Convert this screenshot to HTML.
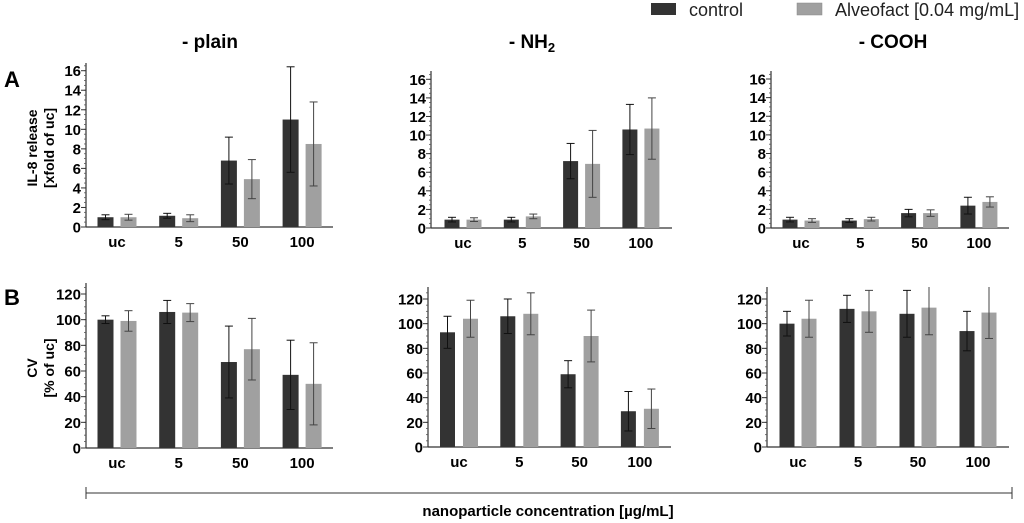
<!DOCTYPE html>
<html><head><meta charset="utf-8"><style>
html,body{margin:0;padding:0;background:#fff;}
svg{display:block;font-family:"Liberation Sans",Arial,sans-serif;}
</style></head><body>
<svg id="fig" width="1024" height="523" viewBox="0 0 1024 523">
<g>
<rect x="651" y="3" width="25" height="12" fill="#333"/>
<text x="689" y="16" font-size="18" fill="#222">control</text>
<rect x="797" y="3" width="25" height="12" fill="#a0a0a0" stroke="#888" stroke-width="0.5"/>
<text x="835" y="16" font-size="18" fill="#222">Alveofact [0.04 mg/mL]</text>
</g>
<text x="210" y="48" font-size="19" font-weight="bold" text-anchor="middle">- plain</text>
<text x="532" y="48" font-size="19" font-weight="bold" text-anchor="middle">- NH<tspan font-size="13" dy="4">2</tspan></text>
<text x="893" y="48" font-size="19" font-weight="bold" text-anchor="middle">- COOH</text>
<text x="4" y="87" font-size="22" font-weight="bold">A</text>
<text x="4" y="305" font-size="22" font-weight="bold">B</text>
<text transform="translate(37,148) rotate(-90)" font-size="14" font-weight="bold" text-anchor="middle"><tspan x="0" dy="0">IL-8 release</tspan><tspan x="0" dy="17">[xfold of uc]</tspan></text>
<text transform="translate(37,368) rotate(-90)" font-size="14" font-weight="bold" text-anchor="middle"><tspan x="0" dy="0">CV</tspan><tspan x="0" dy="17">[% of uc]</tspan></text>
<g>
<line x1="86" y1="493" x2="1012" y2="493" stroke="#333" stroke-width="1"/>
<line x1="86" y1="487" x2="86" y2="499" stroke="#333"/>
<line x1="1012" y1="487" x2="1012" y2="499" stroke="#333"/>
</g>
<text x="548" y="516" font-size="15" font-weight="bold" text-anchor="middle">nanoparticle concentration [µg/mL]</text>
</svg>
<script>
const categories = ["uc","5","50","100"];
const ticksA = [0,2,4,6,8,10,12,14,16];
const ticksB = [0,20,40,60,80,100,120];
const plainA_ctrl = [1.0,1.15,6.8,11.0];
const plainA_ctrlErr = [0.25,0.25,2.4,5.4];
const plainA_alv = [1.0,0.9,4.9,8.5];
const plainA_alvErr = [0.3,0.35,2.0,4.3];
const nh2A_ctrl = [0.9,0.9,7.2,10.6];
const nh2A_ctrlErr = [0.25,0.25,1.9,2.7];
const nh2A_alv = [0.9,1.25,6.9,10.7];
const nh2A_alvErr = [0.2,0.25,3.6,3.3];
const coohA_ctrl = [0.9,0.8,1.6,2.4];
const coohA_ctrlErr = [0.25,0.2,0.4,0.9];
const coohA_alv = [0.8,0.95,1.6,2.8];
const coohA_alvErr = [0.2,0.2,0.35,0.55];
const plainB_ctrl = [100,106,67,57];
const plainB_ctrlErr = [3,9,28,27];
const plainB_alv = [99,105.5,77,50];
const plainB_alvErr = [8,7,24,32];
const nh2B_ctrl = [93,106,59,29];
const nh2B_ctrlErr = [13,14,11,16];
const nh2B_alv = [104,108,90,31];
const nh2B_alvErr = [15,17,21,16];
const coohB_ctrl = [100,112,108,94];
const coohB_ctrlErr = [10,11,19,16];
const coohB_alv = [104,110,113,109];
const coohB_alvErr = [15,17,22,21];

const NS="http://www.w3.org/2000/svg";
const svg=document.getElementById('fig');
function mk(tag,attrs,parent){const e=document.createElementNS(NS,tag);for(const k in attrs)e.setAttribute(k,attrs[k]);(parent||svg).appendChild(e);return e;}

function panel(name,cfg,ticks,max,minorStep,ctrl,ctrlErr,alv,alvErr){
  const g=mk('g',{});
  
  
  const y=v=>cfg.y0-(v/ticks[ticks.length-1])*(cfg.y0-cfg.yMax);
  const top=cfg.top;
  const ax=mk('line',{x1:cfg.ax,y1:top,x2:cfg.ax,y2:cfg.y0,stroke:'#333','stroke-width':1.2},g);
  
  
  const xl=mk('line',{x1:cfg.ax,y1:cfg.y0,x2:cfg.xEnd,y2:cfg.y0,stroke:'#333','stroke-width':1.2},g);
  
  
  for(let v=0;v<=max+1e-9;v+=minorStep){
    mk('line',{x1:cfg.ax-2,y1:y(v),x2:cfg.ax,y2:y(v),stroke:'#555','stroke-width':0.8},g);
  }
  ticks.forEach(t=>{
    mk('line',{x1:cfg.ax-5,y1:y(t),x2:cfg.ax,y2:y(t),stroke:'#333','stroke-width':1},g);
    const tx=mk('text',{x:cfg.ax-5,y:y(t)+5.5,'font-size':15,'font-weight':'bold','text-anchor':'end'},g);
    tx.textContent=t;
    
    
  });
  const bw=cfg.bw;
  const clipY=top;
  categories.forEach((c,i)=>{
    const cx=cfg.first+cfg.step*i;
    const lab=mk('text',{x:cx,y:cfg.y0+20,'font-size':15,'font-weight':'bold','text-anchor':'middle'},g);
    lab.textContent=c;
    
    
    [[ctrl,ctrlErr,'#333','#111',-1,'control'],[alv,alvErr,'#a0a0a0','#444',1,'alveofact']].forEach(([vals,errs,fill,ec,side,sn])=>{
      const bx=cx+side*(cfg.gap/2)+(side<0?-bw:0);
      const v=vals[i];
      const r=mk('rect',{x:bx,y:y(v),width:bw,height:cfg.y0-y(v),fill:fill},g);
      
      
      const mx=bx+bw/2;
      const hi=Math.max(y(v+errs[i]),clipY), lo=y(Math.max(v-errs[i],0));
      const el=mk('line',{x1:mx,y1:hi,x2:mx,y2:lo,stroke:ec,'stroke-width':1},g);
      
      
      if(y(v+errs[i])>=clipY) mk('line',{x1:mx-4,y1:hi,x2:mx+4,y2:hi,stroke:ec,'stroke-width':1},g);
      mk('line',{x1:mx-4,y1:lo,x2:mx+4,y2:lo,stroke:ec,'stroke-width':1},g);
    });
  });
}
panel('panel-a-plain',{ax:86,y0:227,yMax:70.7,top:63,xEnd:333,first:117,step:61.7,bw:16,gap:7},ticksA,16.5,0.5,plainA_ctrl,plainA_ctrlErr,plainA_alv,plainA_alvErr);
panel('panel-a-nh2',{ax:431,y0:228,yMax:79.3,top:71,xEnd:672,first:463,step:59.3,bw:15,gap:7},ticksA,16.5,0.5,nh2A_ctrl,nh2A_ctrlErr,nh2A_alv,nh2A_alvErr);
panel('panel-a-cooh',{ax:771,y0:228,yMax:79,top:71,xEnd:1009,first:801,step:59.3,bw:15,gap:7},ticksA,16.5,0.5,coohA_ctrl,coohA_ctrlErr,coohA_alv,coohA_alvErr);
panel('panel-b-plain',{ax:86,y0:448,yMax:294,top:283,xEnd:333,first:117,step:61.7,bw:16,gap:7},ticksB,125,5,plainB_ctrl,plainB_ctrlErr,plainB_alv,plainB_alvErr);
panel('panel-b-nh2',{ax:428,y0:447,yMax:299,top:287,xEnd:671,first:459,step:60.3,bw:15,gap:8},ticksB,125,5,nh2B_ctrl,nh2B_ctrlErr,nh2B_alv,nh2B_alvErr);
panel('panel-b-cooh',{ax:767,y0:447,yMax:299,top:287,xEnd:1009,first:798,step:60,bw:15,gap:7},ticksB,125,5,coohB_ctrl,coohB_ctrlErr,coohB_alv,coohB_alvErr);
</script>
</body></html>
